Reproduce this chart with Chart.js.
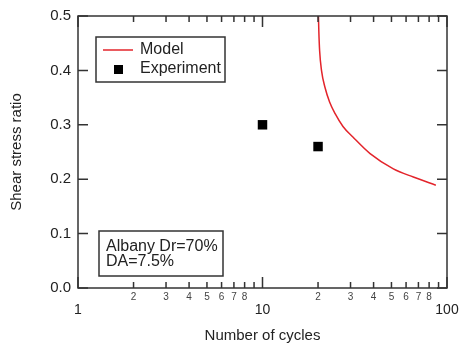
<!DOCTYPE html>
<html>
<head>
<meta charset="utf-8">
<script src="https://cdn.jsdelivr.net/npm/chart.js@4/dist/chart.umd.min.js"></script>
<style>
  body { margin: 0; background: #fff; }
  canvas { display: block; }
</style>
</head>
<body>
<canvas id="chart" width="461" height="349"></canvas>
<script>
// data
const modelCycles = [20.1, 20.2, 20.4, 20.9, 21.8, 23.1, 24.8, 27.3, 31.0, 38.3, 51.2, 65.7, 87.0];
const modelRatio  = [0.500, 0.472, 0.436, 0.399, 0.369, 0.342, 0.320, 0.297, 0.277, 0.247, 0.219, 0.204, 0.189];
const expCycles = [10, 20];
const expRatio  = [0.30, 0.26];

// tick values
const majorCycleTicks = [1, 10, 100];
const minorCycleTicks = [2, 3, 4, 5, 6, 7, 8, 9, 20, 30, 40, 50, 60, 70, 80, 90];
const minorCycleLabels = [2, 3, 4, 5, 6, 7, 8, 20, 30, 40, 50, 60, 70, 80];
const ratioTicks = [0, 0.1, 0.2, 0.3, 0.4, 0.5];

const FONT = "'Liberation Sans', Arial, sans-serif";
const INK = '#222';

function pts(xs, ys) {
    let out = [];
    for (let i = 0; i < xs.length; i++) out.push({x: xs[i], y: ys[i]});
    return out;
}

// frame, inward ticks, legend and note box
const framePlugin = {
    id: 'frame',
    afterDraw(chart) {
        const ctx = chart.ctx;
        const a = chart.chartArea;
        const xs = chart.scales.x, ys = chart.scales.y;
        ctx.save();
        ctx.strokeStyle = '#333';
        ctx.lineWidth = 1.5;
        ctx.strokeRect(a.left, a.top, a.right - a.left, a.bottom - a.top);

        ctx.beginPath();
        ratioTicks.forEach(v => {
            const py = ys.getPixelForValue(v);
            ctx.moveTo(a.left, py); ctx.lineTo(a.left + 10, py);
            ctx.moveTo(a.right, py); ctx.lineTo(a.right - 10, py);
        });
        majorCycleTicks.forEach(v => {
            const px = xs.getPixelForValue(v);
            ctx.moveTo(px, a.bottom); ctx.lineTo(px, a.bottom - 11);
            ctx.moveTo(px, a.top); ctx.lineTo(px, a.top + 11);
        });
        minorCycleTicks.forEach(v => {
            const px = xs.getPixelForValue(v);
            ctx.moveTo(px, a.bottom); ctx.lineTo(px, a.bottom - 6);
            ctx.moveTo(px, a.top); ctx.lineTo(px, a.top + 6);
        });
        ctx.stroke();

        // legend
        const lx = a.left + 18, ly = a.top + 21;
        ctx.strokeStyle = '#333';
        ctx.lineWidth = 1.5;
        ctx.strokeRect(lx, ly, 129, 45);
        const ds = chart.data.datasets;
        ctx.strokeStyle = ds[0].borderColor;
        ctx.beginPath();
        ctx.moveTo(lx + 7, ly + 13); ctx.lineTo(lx + 37, ly + 13);
        ctx.stroke();
        ctx.fillStyle = ds[1].backgroundColor;
        ctx.fillRect(lx + 18, ly + 28, 9, 9);
        ctx.fillStyle = INK;
        ctx.font = '16px ' + FONT;
        ctx.textBaseline = 'middle';
        ctx.fillText('Model', lx + 44, ly + 13);
        ctx.fillText('Experiment', lx + 44, ly + 32);

        // note box
        const bx = a.left + 21, by = a.top + 215;
        ctx.strokeStyle = '#333';
        ctx.strokeRect(bx, by, 124, 45);
        ctx.fillText('Albany Dr=70%', bx + 7, by + 16);
        ctx.fillText('DA=7.5%', bx + 7, by + 31);
        ctx.restore();
    }
};

const logAxisBase = {
    type: 'logarithmic',
    min: 1,
    max: 100,
    position: 'bottom',
    grid: { display: false, drawTicks: false },
    border: { display: false }
};

new Chart(document.getElementById('chart').getContext('2d'), {
    type: 'scatter',
    data: {
        datasets: [
            {
                label: 'Model',
                data: pts(modelCycles, modelRatio),
                showLine: true,
                borderColor: '#e3242b',
                borderWidth: 1.5,
                pointRadius: 0,
                cubicInterpolationMode: 'monotone',
                xAxisID: 'x'
            },
            {
                label: 'Experiment',
                data: pts(expCycles, expRatio),
                pointStyle: 'rect',
                pointRadius: 6.7,
                backgroundColor: '#000',
                borderColor: '#000',
                borderWidth: 0,
                xAxisID: 'x'
            }
        ]
    },
    options: {
        responsive: false,
        animation: false,
        layout: { padding: { top: 15, right: 14, left: 0, bottom: 0 } },
        plugins: { legend: { display: false }, tooltip: { enabled: false } },
        scales: {
            x: Object.assign({}, logAxisBase, {
                afterBuildTicks: s => { s.ticks = minorCycleLabels.map(v => ({value: v})); },
                afterFit: s => { s.height = 12; },
                ticks: {
                    autoSkip: false, maxRotation: 0, minRotation: 0, padding: 3,
                    color: '#444',
                    font: { family: FONT, size: 10 },
                    callback: v => String(v >= 10 ? v / 10 : v)
                }
            }),
            x2: Object.assign({}, logAxisBase, {
                afterBuildTicks: s => { s.ticks = majorCycleTicks.map(v => ({value: v})); },
                afterFit: s => { s.height = 49; },
                ticks: {
                    autoSkip: false, maxRotation: 0, minRotation: 0, padding: 2,
                    color: INK,
                    font: { family: FONT, size: 14 },
                    callback: v => String(v)
                },
                title: {
                    display: true,
                    text: 'Number of cycles',
                    color: INK,
                    font: { family: FONT, size: 15 },
                    padding: { top: 0, bottom: 4 }
                }
            }),
            y: {
                min: 0,
                max: 0.5,
                afterBuildTicks: s => { s.ticks = ratioTicks.map(v => ({value: v})); },
                afterFit: s => { s.width = 78; },
                grid: { display: false, drawTicks: false },
                border: { display: false },
                ticks: {
                    padding: 7,
                    color: INK,
                    font: { family: FONT, size: 15 },
                    callback: v => v.toFixed(1)
                },
                title: {
                    display: true,
                    text: 'Shear stress ratio',
                    color: INK,
                    font: { family: FONT, size: 15 },
                    padding: { top: 8, bottom: 0 }
                }
            }
        }
    },
    plugins: [framePlugin]
});
</script>
</body>
</html>
